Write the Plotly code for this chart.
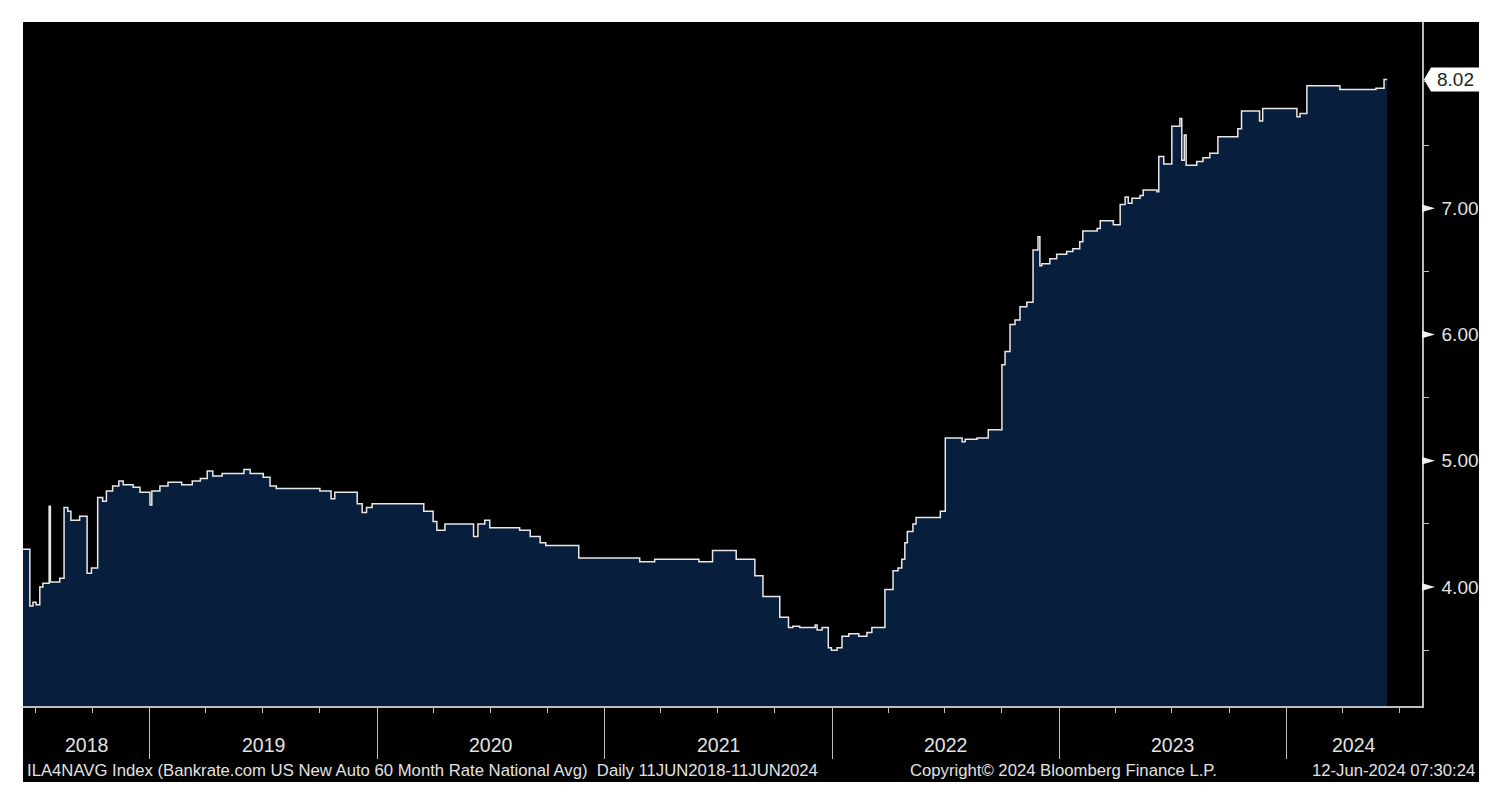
import plotly.graph_objects as go
import pandas as pd

# ---- data ----
dates = [
    "2018-06-11", "2018-06-22", "2018-06-27", "2018-07-02", "2018-07-08", "2018-07-13",
    "2018-07-23", "2018-07-25", "2018-08-09", "2018-08-16", "2018-08-22", "2018-08-27",
    "2018-09-10", "2018-09-22", "2018-09-29", "2018-10-09", "2018-10-17", "2018-10-23",
    "2018-11-02", "2018-11-12", "2018-11-19", "2018-12-05", "2018-12-16", "2019-01-01",
    "2019-01-04", "2019-01-17", "2019-01-30", "2019-02-21", "2019-03-10",
    "2019-03-23", "2019-04-03", "2019-04-12", "2019-04-27", "2019-06-01", "2019-06-11",
    "2019-07-02", "2019-07-13", "2019-07-23", "2019-10-01", "2019-10-19", "2019-10-25",
    "2019-11-30", "2019-12-08", "2019-12-15", "2019-12-24",
    "2020-03-16", "2020-03-31", "2020-04-06", "2020-04-19", "2020-06-04", "2020-06-11",
    "2020-06-22", "2020-06-30", "2020-08-17", "2020-09-03", "2020-09-19", "2020-09-28",
    "2020-11-20", "2021-02-26", "2021-03-22", "2021-06-01",
    "2021-06-23", "2021-07-31", "2021-08-30", "2021-09-12", "2021-10-09", "2021-10-23",
    "2021-10-30", "2021-11-10", "2021-12-05", "2021-12-08", "2021-12-16", "2021-12-26",
    "2021-12-31", "2022-01-09", "2022-01-17", "2022-01-28", "2022-02-13", "2022-02-26",
    "2022-03-06", "2022-03-27", "2022-04-09", "2022-04-17", "2022-04-23", "2022-04-28",
    "2022-05-02", "2022-05-11", "2022-05-16", "2022-06-24", "2022-07-02",
    "2022-07-29", "2022-08-03", "2022-08-22", "2022-09-09", "2022-10-01", "2022-10-06",
    "2022-10-14", "2022-10-22", "2022-10-30", "2022-11-10", "2022-11-20", "2022-11-28",
    "2022-12-01", "2022-12-04", "2022-12-17", "2022-12-28", "2023-01-13", "2023-01-23",
    "2023-02-03", "2023-02-08", "2023-03-03", "2023-03-08", "2023-03-29", "2023-04-09",
    "2023-04-17", "2023-04-22", "2023-04-28", "2023-05-11", "2023-05-16", "2023-06-07",
    "2023-06-10", "2023-06-18", "2023-07-01", "2023-07-14", "2023-07-17", "2023-07-21",
    "2023-07-24", "2023-08-10", "2023-08-20", "2023-08-31", "2023-09-13", "2023-10-15",
    "2023-10-21", "2023-11-19", "2023-11-24", "2024-01-18", "2024-01-23", "2024-02-03",
    "2024-03-27", "2024-05-24", "2024-06-06", "2024-06-11",
]
rates = [
    4.30, 3.85, 3.88, 3.86, 4.00, 4.03,
    4.64, 4.04, 4.07, 4.63, 4.60, 4.53,
    4.56, 4.11, 4.15, 4.71, 4.68, 4.76,
    4.80, 4.84, 4.81, 4.79, 4.75, 4.65,
    4.76, 4.80, 4.83, 4.81, 4.84,
    4.86, 4.92, 4.88, 4.90, 4.93, 4.90,
    4.87, 4.80, 4.78, 4.76, 4.70, 4.75,
    4.66, 4.59, 4.63, 4.66,
    4.60, 4.52, 4.45, 4.50, 4.40, 4.50,
    4.53, 4.47, 4.45, 4.40, 4.35, 4.33,
    4.23, 4.20, 4.22, 4.20,
    4.29, 4.22, 4.09, 3.925, 3.76, 3.68,
    3.69, 3.68, 3.70, 3.66, 3.68, 3.52,
    3.50, 3.52, 3.61, 3.63, 3.61, 3.64,
    3.68, 3.98, 4.13, 4.15, 4.22, 4.35,
    4.44, 4.50, 4.55, 4.60, 5.18,
    5.15, 5.17, 5.18, 5.245, 5.76, 5.865,
    6.08, 6.115, 6.22, 6.255, 6.67, 6.775,
    6.545, 6.56, 6.60, 6.635, 6.657, 6.68,
    6.735, 6.82, 6.84, 6.90, 6.87, 7.03,
    7.09, 7.04, 7.08, 7.10, 7.145, 7.13,
    7.41, 7.35, 7.65, 7.71, 7.38, 7.58,
    7.34, 7.37, 7.40, 7.435, 7.567, 7.63,
    7.77, 7.69, 7.79, 7.725, 7.75, 7.97,
    7.94, 7.95, 8.02, 8.02,
]
last_value = 8.02

year_labels = ["2018", "2019", "2020", "2021", "2022", "2023", "2024"]
y_ticks = [4, 5, 6, 7]
footer_left = "ILA4NAVG Index (Bankrate.com US New Auto 60 Month Rate National Avg)  Daily 11JUN2018-11JUN2024"
footer_mid = "Copyright\u00a9 2024 Bloomberg Finance L.P."
footer_right = "12-Jun-2024 07:30:24"

x_start, x_end = "2018-06-11", "2024-08-06"
y_min, y_max = 3.058, 8.475

FONT = "Liberation Sans"
TXT = "#e2e2e2"
AXC = "#bdbdbd"

fig = go.Figure()
fig.add_trace(go.Scatter(
    x=pd.to_datetime(dates), y=rates, mode="lines", line_shape="hv",
    line=dict(color="#e8e8e8", width=1.5),
    fill="tozeroy", fillcolor="#071e3d", hoverinfo="skip", showlegend=False,
))

W, H = 1502, 806
L, R, T, B = 23, 80, 22, 100
pw, ph = W - L - R, H - T - B

def px_to_paper_x(px):
    return (px - L) / pw

def py_to_paper_y(py):
    return (H - B - py) / ph

shapes = []
# black backdrop incl. footer area
shapes.append(dict(type="rect", xref="paper", yref="paper", layer="below",
                   x0=0, x1=px_to_paper_x(1479), y0=py_to_paper_y(782), y1=1,
                   fillcolor="black", line=dict(width=0)))
# triangles at y major ticks
tri_w = px_to_paper_x(L + pw + 13) - 1
for v in y_ticks:
    shapes.append(dict(type="path", xref="paper", yref="y", layer="above",
                       path=f"M 1,{v-0.03} L {1+tri_w},{v} L 1,{v+0.03} Z",
                       fillcolor="#f0f0f0", line=dict(width=0)))
# last value box
x_tip = px_to_paper_x(1424)
x_cor = px_to_paper_x(1431)
x_rt = px_to_paper_x(1479)
hh = 0.095
shapes.append(dict(type="path", xref="paper", yref="y", layer="above",
                   path=(f"M {x_tip},{last_value} L {x_cor},{last_value+hh} L {x_rt},{last_value+hh} "
                         f"L {x_rt},{last_value-hh} L {x_cor},{last_value-hh} Z"),
                   fillcolor="white", line=dict(width=0)))

annotations = []
annotations.append(dict(xref="paper", yref="y", x=px_to_paper_x(1455), y=last_value,
                        text=f"{last_value:.2f}", showarrow=False, xanchor="center", yanchor="middle",
                        font=dict(family=FONT, size=19, color="#222222")))

# year labels centred within each year segment
bounds = [pd.Timestamp(x_start)] + [pd.Timestamp(f"{y}-01-01") for y in range(2019, 2025)] + [pd.Timestamp(x_end)]
for i, lab in enumerate(year_labels):
    mid = bounds[i] + (bounds[i + 1] - bounds[i]) / 2
    annotations.append(dict(xref="x", yref="paper", x=mid, y=py_to_paper_y(745),
                            text=lab, showarrow=False, xanchor="center", yanchor="middle",
                            font=dict(family=FONT, size=19.5, color=TXT)))

fy = py_to_paper_y(770)
annotations.append(dict(xref="paper", yref="paper", x=px_to_paper_x(25), y=fy, text=footer_left,
                        showarrow=False, xanchor="left", yanchor="middle",
                        font=dict(family=FONT, size=16.7, color=TXT)))
annotations.append(dict(xref="paper", yref="paper", x=px_to_paper_x(908), y=fy, text=footer_mid,
                        showarrow=False, xanchor="left", yanchor="middle",
                        font=dict(family=FONT, size=16.7, color=TXT)))
annotations.append(dict(xref="paper", yref="paper", x=px_to_paper_x(1477), y=fy, text=footer_right,
                        showarrow=False, xanchor="right", yanchor="middle",
                        font=dict(family=FONT, size=16.7, color=TXT)))

fig.update_layout(
    width=W, height=H, margin=dict(l=L, r=R, t=T, b=B, pad=0),
    paper_bgcolor="white", plot_bgcolor="black",
    shapes=shapes, annotations=annotations, showlegend=False,
    xaxis=dict(
        type="date", range=[x_start, x_end], showgrid=False, zeroline=False,
        showline=True, linecolor=AXC, linewidth=1.5,
        ticks="outside", ticklen=51, tickcolor=AXC, tickwidth=1,
        tick0="2019-01-01", dtick="M12", showticklabels=False,
        minor=dict(ticks="outside", ticklen=5, tickcolor=AXC, dtick="M3", tick0="2018-01-01", showgrid=False),
    ),
    yaxis=dict(
        range=[y_min, y_max], side="right", showgrid=False, zeroline=False,
        showline=True, linecolor=AXC, linewidth=1.5,
        tickvals=y_ticks, tickformat=".2f", ticks="", ticklabelstandoff=14,
        tickfont=dict(family=FONT, size=19, color=TXT),
        minor=dict(ticks="outside", ticklen=5, tickcolor=AXC, dtick=0.5, tick0=0.5, showgrid=False),
    ),
)

fig.write_html("out.html")
